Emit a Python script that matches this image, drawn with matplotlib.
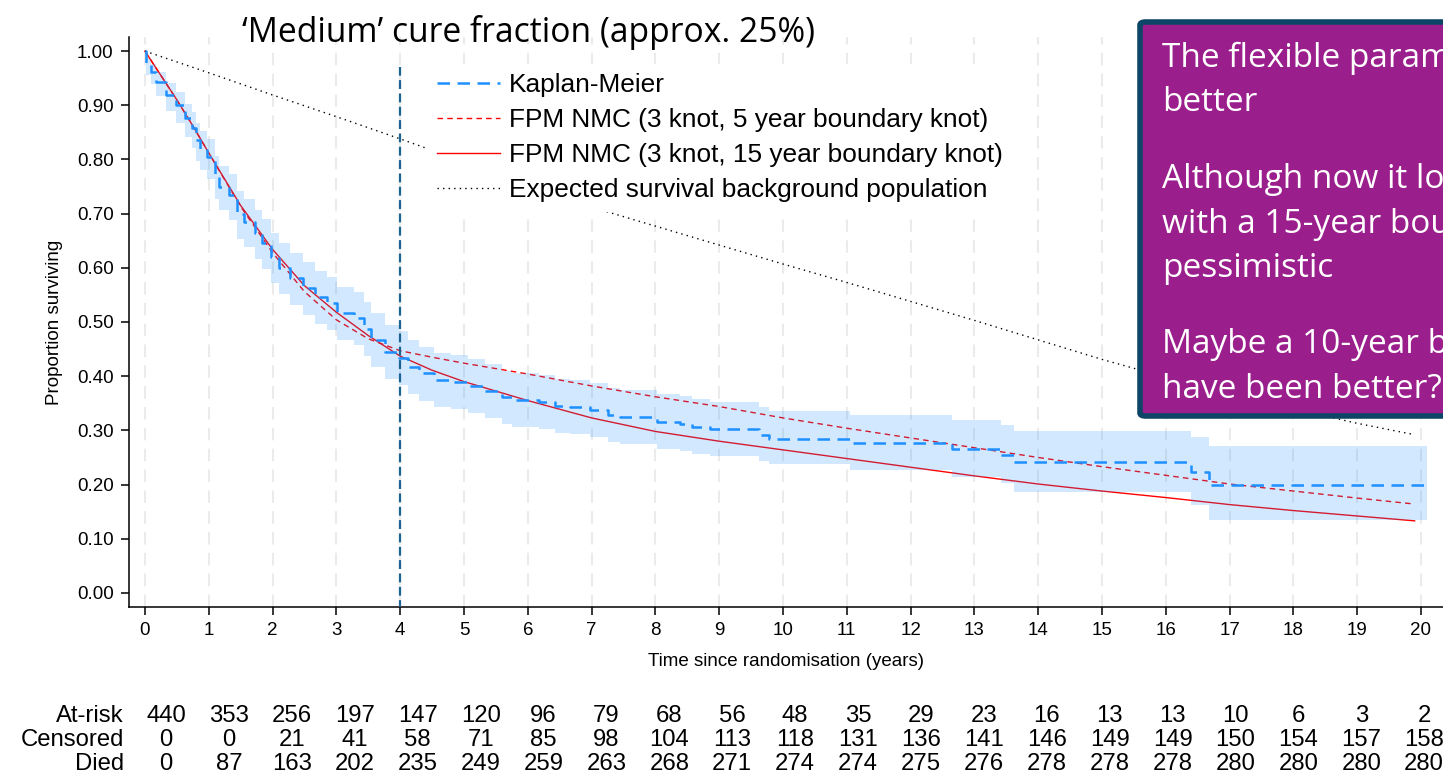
import matplotlib
matplotlib.use('Agg')
import matplotlib.pyplot as plt
from matplotlib.patches import FancyBboxPatch
from matplotlib.lines import Line2D

plt.rcParams['font.family'] = ['Liberation Sans', 'DejaVu Sans']

# Kaplan-Meier estimate: time each step starts, survival and 95% CI on that step
km_time = [0.00, 0.02, 0.10, 0.18, 0.33, 0.48, 0.62, 0.74, 0.80, 0.86, 0.98, 1.10, 1.16, 1.31,
           1.44, 1.55, 1.73, 1.84, 1.97, 2.10, 2.28, 2.48, 2.66, 2.85, 3.01, 3.27, 3.43, 3.55,
           3.77, 3.98, 4.13, 4.30, 4.53, 4.80, 5.07, 5.33, 5.60, 5.75, 6.17, 6.42, 6.66, 6.97,
           7.25, 7.45, 8.02, 8.38, 8.58, 8.85, 9.62, 9.78, 11.05, 12.65, 13.42, 13.62, 16.40, 16.68]
km_surv = [1.000, 0.975, 0.962, 0.943, 0.919, 0.900, 0.876, 0.858, 0.836, 0.820, 0.805, 0.770,
           0.750, 0.734, 0.700, 0.685, 0.664, 0.646, 0.620, 0.600, 0.581, 0.563, 0.547, 0.535,
           0.517, 0.507, 0.488, 0.467, 0.445, 0.434, 0.417, 0.405, 0.393, 0.390, 0.382, 0.373,
           0.361, 0.356, 0.353, 0.345, 0.343, 0.338, 0.328, 0.325, 0.316, 0.312, 0.307, 0.302,
           0.291, 0.284, 0.276, 0.265, 0.255, 0.241, 0.223, 0.200]
km_lower = [1.000, 0.955, 0.940, 0.918, 0.890, 0.868, 0.842, 0.822, 0.798, 0.781, 0.764, 0.727,
            0.706, 0.689, 0.654, 0.639, 0.617, 0.598, 0.572, 0.551, 0.532, 0.513, 0.497, 0.485,
            0.467, 0.457, 0.437, 0.417, 0.395, 0.384, 0.367, 0.355, 0.343, 0.340, 0.332, 0.323,
            0.311, 0.306, 0.303, 0.295, 0.293, 0.288, 0.278, 0.275, 0.266, 0.262, 0.257, 0.252,
            0.243, 0.238, 0.227, 0.214, 0.202, 0.187, 0.162, 0.134]
km_upper = [1.000, 0.988, 0.977, 0.962, 0.941, 0.924, 0.903, 0.887, 0.867, 0.852, 0.838, 0.806,
            0.788, 0.773, 0.741, 0.727, 0.707, 0.690, 0.665, 0.646, 0.627, 0.610, 0.594, 0.583,
            0.565, 0.555, 0.536, 0.516, 0.494, 0.483, 0.466, 0.454, 0.442, 0.439, 0.431, 0.422,
            0.410, 0.405, 0.402, 0.395, 0.393, 0.388, 0.378, 0.375, 0.367, 0.363, 0.358, 0.353,
            0.343, 0.336, 0.329, 0.319, 0.310, 0.298, 0.288, 0.272]
km_end = 20.1

# flexible parametric (non-mixture cure) model predictions
fpm_time = [0, 0.25, 0.5, 0.75, 1, 1.5, 2, 2.5, 3, 3.5, 4, 4.5, 5, 6, 7, 8, 9, 10,
            11, 12, 13, 14, 15, 16, 17, 18, 19, 19.9]
fpm_5yr = [1.0, 0.955, 0.910, 0.862, 0.812, 0.713, 0.628, 0.556, 0.504, 0.469, 0.447, 0.435,
           0.424, 0.404, 0.382, 0.362, 0.344, 0.323, 0.304, 0.286, 0.268, 0.250, 0.233, 0.217,
           0.201, 0.188, 0.175, 0.164]
fpm_15yr = [1.0, 0.955, 0.910, 0.862, 0.812, 0.715, 0.634, 0.567, 0.518, 0.475, 0.437, 0.411,
            0.390, 0.355, 0.323, 0.298, 0.280, 0.264, 0.248, 0.232, 0.216, 0.201, 0.188, 0.176,
            0.163, 0.152, 0.142, 0.133]

# expected survival in the background population
exp_time = [0, 1, 2, 3, 4, 5, 6, 7, 8, 9, 10, 11, 12, 13, 14, 15, 16, 17, 18, 19, 19.9]
exp_surv = [1.0, 0.960, 0.919, 0.879, 0.838, 0.796, 0.754, 0.712, 0.677, 0.642, 0.607, 0.573,
            0.538, 0.503, 0.467, 0.431, 0.398, 0.369, 0.340, 0.313, 0.292]

# numbers at risk table
risk_years = list(range(21))
at_risk = [440, 353, 256, 197, 147, 120, 96, 79, 68, 56, 48, 35, 29, 23, 16, 13, 13, 10, 6, 3, 2]
censored = [0, 0, 21, 41, 58, 71, 85, 98, 104, 113, 118, 131, 136, 141, 146, 149, 149, 150, 154, 157, 158]
died = [0, 87, 163, 202, 235, 249, 259, 263, 268, 271, 274, 274, 275, 276, 278, 278, 278, 280, 280, 280, 280]

title = '\u2018Medium\u2019 cure fraction (approx. 25%)'
box_text = [['The flexible parametric model fits', 'better'],
            ['Although now it looks like that', 'with a 15-year boundary knot it is too', 'pessimistic'],
            ['Maybe a 10-year boundary knot would', 'have been better?']]

W, H = 1443, 774
fig = plt.figure(figsize=(W / 100, H / 100), dpi=100)
ax = fig.add_axes([129 / W, 1 - 607 / H, (W - 129) / W, 570 / H])

km_blue = '#1e90ff'
ax.plot(fpm_time, fpm_15yr, color='red', lw=1.0, zorder=2)
ax.plot(fpm_time, fpm_5yr, color='red', lw=1.0, ls=(0, (4, 3)), zorder=2)
ax.plot(exp_time, exp_surv, color='black', lw=1.0, ls=(0, (1, 3)), zorder=2)
ax.fill_between(km_time + [km_end], km_lower + km_lower[-1:], km_upper + km_upper[-1:],
                step='post', color=km_blue, alpha=0.2, lw=0, zorder=3)
ax.plot(km_time + [km_end], km_surv + km_surv[-1:], drawstyle='steps-post',
        color=km_blue, lw=1.8, ls=(0, (5, 3)), zorder=4)
ax.vlines(4, -0.03, 0.97, color='#1b6391', lw=1.6, ls=(0, (4, 2)), zorder=5)

ax.set_xlim(-0.25, 20.345)
ax.set_ylim(-0.026, 1.026)
ax.set_xticks(risk_years)
ax.set_yticks([i / 10 for i in range(11)])
ax.set_yticklabels([f'{i / 10:.2f}' for i in range(11)])
ax.tick_params(labelsize=13.5, length=6, width=1.1, pad=5)
ax.grid(axis='x', color='#ebebeb', lw=1.5, ls=(0, (6, 4)))
ax.set_axisbelow(True)
for s in ['top', 'right']:
    ax.spines[s].set_visible(False)
for s in ['left', 'bottom']:
    ax.spines[s].set_linewidth(1.1)
ax.set_xlabel('Time since randomisation (years)', fontsize=13.5, labelpad=10)
ax.set_ylabel('Proportion surviving', fontsize=13.5, labelpad=10)

handles = [Line2D([], [], color=km_blue, lw=1.8, ls=(0, (5, 3))),
           Line2D([], [], color='red', lw=1.0, ls=(0, (4, 3))),
           Line2D([], [], color='red', lw=1.0),
           Line2D([], [], color='black', lw=1.0, ls=(0, (1, 3)))]
labels = ['Kaplan-Meier', 'FPM NMC (3 knot, 5 year boundary knot)',
          'FPM NMC (3 knot, 15 year boundary knot)', 'Expected survival background population']
leg = ax.legend(handles, labels, loc='upper left', bbox_to_anchor=(415 / W, 1 - 51 / H),
                bbox_transform=fig.transFigure, fontsize=18.9, frameon=True, framealpha=1,
                edgecolor='none', fancybox=False, handlelength=2.4, handletextpad=0.34,
                labelspacing=0.42, borderpad=0.35)
leg.set_zorder(6)

fig.text(529 / W, 1 - 42 / H, title, fontsize=24.2, family=['Open Sans', 'DejaVu Sans'],
         ha='center', va='baseline')

# risk table, columns spaced a little differently from the time axis
ax_tab = fig.add_axes([129 / W, -2 / H, (W - 129) / W, 72 / H])
ax_tab.set_xlim(-0.59, 20.30)
ax_tab.set_ylim(2.5, -0.5)
ax_tab.axis('off')
for row, (name, vals) in enumerate([('At-risk', at_risk), ('Censored', censored), ('Died', died)]):
    ax_tab.text(-0.67, row, name, ha='right', va='center', fontsize=17.2)
    for k, v in zip(risk_years, vals):
        ax_tab.text(k, row, str(v), ha='center', va='center', fontsize=17.2)

# purple comment box, cut off by the right edge as in the slide
box = FancyBboxPatch((1140 / W, 1 - 416 / H), 400 / W, 394 / H,
                     boxstyle='round,pad=0,rounding_size=0.004', transform=fig.transFigure,
                     facecolor='#9a1e8c', edgecolor='#0d4566', lw=4, zorder=10, clip_on=False)
fig.patches.append(box)
para_base = [66.7, 188.3, 353.3]
for base, lines in zip(para_base, box_text):
    for j, line in enumerate(lines):
        fig.text(1162 / W, 1 - (base + j * 44.5) / H, line, color='white', fontsize=24,
                 family=['Open Sans', 'DejaVu Sans'], ha='left', va='baseline', zorder=11)

fig.savefig('out.png', dpi=100)
